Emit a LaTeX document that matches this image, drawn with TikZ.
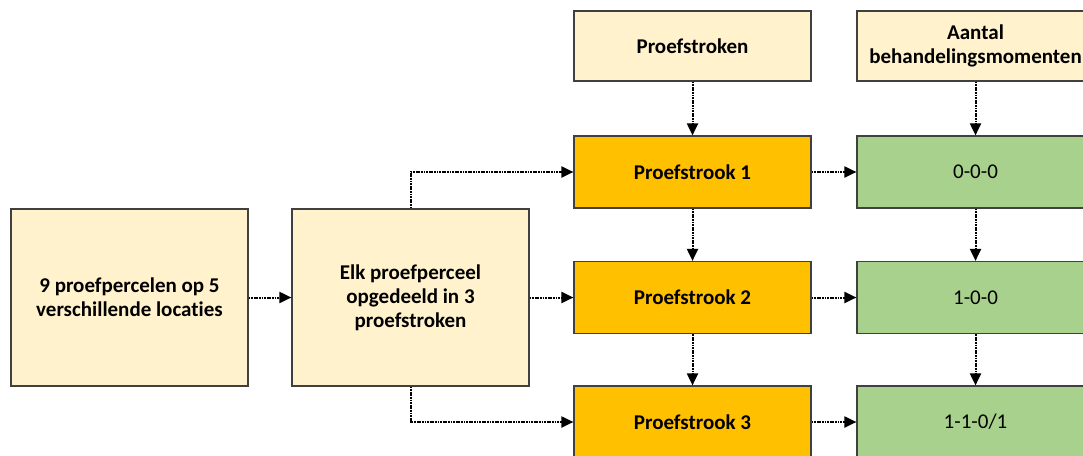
\documentclass[tikz,border=0pt]{standalone}
\usepackage{fontspec}
\setmainfont{Carlito}[Ligatures=CommonOff]
\usetikzlibrary{arrows.meta,positioning}
\definecolor{lightbox}{HTML}{FFF2CC}
\definecolor{orangebox}{HTML}{FFC000}
\definecolor{greenbox}{HTML}{A9D18E}
\definecolor{edge}{HTML}{404040}
\tikzset{
  box/.style={draw=edge,line width=1.2pt,minimum width=237pt,align=center,font=\fontsize{21}{24}\selectfont,inner sep=0pt},
  plain/.style={box,fill=lightbox,font=\bfseries\fontsize{21}{24}\selectfont},
  strip/.style={box,fill=orangebox,minimum height=72pt,font=\bfseries\fontsize{21}{24}\selectfont},
  count/.style={box,fill=greenbox,minimum height=72pt},
  conn/.style={line width=2pt,dash pattern=on 1.8pt off 0.8pt,-{Triangle[length=12pt,width=11pt]}}
}
\begin{document}
\begin{tikzpicture}[x=1pt,y=-1pt]
\useasboundingbox (0,0) rectangle (1083,455);
\begin{scope}
\clip (0,0) rectangle (1083,455);
\node[plain,minimum height=177pt] (loc) at (129.5,297.5) {9 proefpercelen op 5\\verschillende locaties};
\node[plain,minimum height=177pt] (split) at (410.5,297.5) {Elk proefperceel\\opgedeeld in 3\\proefstroken};
\node[plain,minimum height=70pt] (hdrA) at (692.5,46) {Proefstroken};
\node[plain,minimum height=70pt] (hdrB) at (975.5,46) {Aantal\\behandelingsmomenten};
\node[strip] (p1) at (692.5,172) {Proefstrook 1};
\node[strip] (p2) at (692.5,297.5) {Proefstrook 2};
\node[strip] (p3) at (692.5,422) {Proefstrook 3};
\node[count] (g1) at (975.5,172) {0-0-0};
\node[count] (g2) at (975.5,297.5) {1-0-0};
\node[count] (g3) at (975.5,422) {1-1-0/1};
\end{scope}
\draw[conn] (loc.east) -- (split.west);
\draw[conn] (split.east) -- (p2.west);
\draw[conn] (split.north) |- (p1.west);
\draw[conn] (split.south) |- (p3.west);
\draw[conn] (hdrA.south) -- (p1.north);
\draw[conn] (p1.south) -- (p2.north);
\draw[conn] (p2.south) -- (p3.north);
\draw[conn] (p1.east) -- (g1.west);
\draw[conn] (p2.east) -- (g2.west);
\draw[conn] (p3.east) -- (g3.west);
\draw[conn] (hdrB.south) -- (g1.north);
\draw[conn] (g1.south) -- (g2.north);
\draw[conn] (g2.south) -- (g3.north);
\end{tikzpicture}
\end{document}
